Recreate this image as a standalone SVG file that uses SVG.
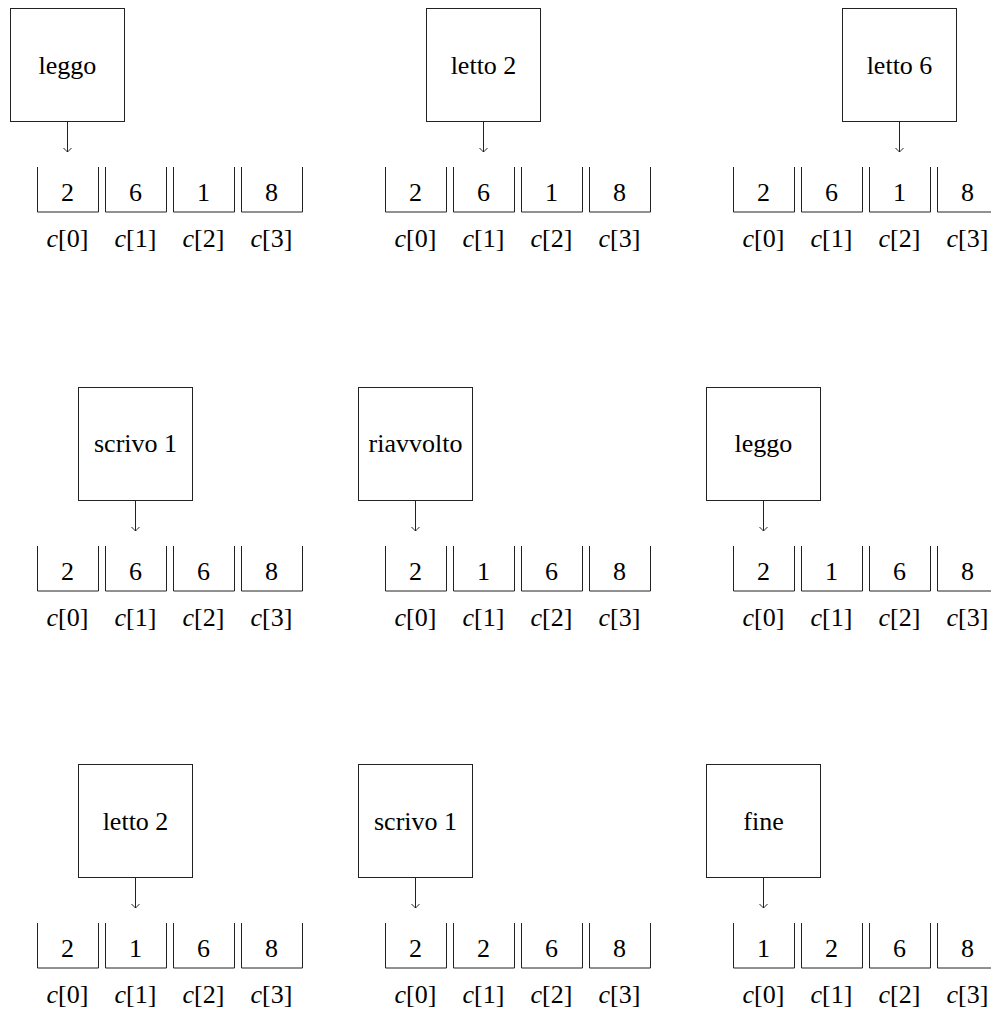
<svg xmlns="http://www.w3.org/2000/svg" width="991" height="1015" viewBox="0 0 991 1015" font-family="Liberation Serif, serif" font-size="26">
<style>
.box{fill:none;stroke:rgb(34,34,34);stroke-width:1}
.cell{fill:none;stroke:rgb(34,34,34);stroke-width:1}
.conn{stroke:rgb(34,34,34);stroke-width:1;fill:none}
.ah{fill:none;stroke:rgb(34,34,34);stroke-width:1}
</style>
<defs>
<marker id="arr" viewBox="-5 -5 10 10" markerWidth="10" markerHeight="10" refX="0" refY="0" orient="auto" markerUnits="userSpaceOnUse">
<path class="ah" d="M-4,-4 Q-1,-1 0,0 Q-1,1 -4,4"/>
</marker>
</defs>

<g id="r1p1" font-family="Liberation Serif, serif" font-size="26" text-anchor="middle">
<rect class="box" x="10.5" y="8.5" width="114" height="113"/>
<text x="67.5" y="74" font-family="Liberation Serif, serif">leggo</text>
<path class="cell" d="M37.5,167 V212 H98.5 V167 M105.5,167 V212 H166.5 V167 M173.5,167 V212 H234.5 V167 M241.5,167 V212 H302.5 V167"/>
<text x="67.5" y="201" font-family="Liberation Serif, serif">2</text><text x="135.5" y="201" font-family="Liberation Serif, serif">6</text><text x="203.5" y="201" font-family="Liberation Serif, serif">1</text><text x="271.5" y="201" font-family="Liberation Serif, serif">8</text>
<text x="67.5" y="247" font-family="Liberation Serif, serif"><tspan font-style="italic">c</tspan>[0]</text><text x="135.5" y="247" font-family="Liberation Serif, serif"><tspan font-style="italic">c</tspan>[1]</text><text x="203.5" y="247" font-family="Liberation Serif, serif"><tspan font-style="italic">c</tspan>[2]</text><text x="271.5" y="247" font-family="Liberation Serif, serif"><tspan font-style="italic">c</tspan>[3]</text>
</g>

<g id="r1p2" font-family="Liberation Serif, serif" font-size="26" text-anchor="middle">
<rect class="box" x="426.5" y="8.5" width="114" height="113"/>
<text x="483.5" y="74" font-family="Liberation Serif, serif">letto 2</text>
<path class="cell" d="M385.5,167 V212 H446.5 V167 M453.5,167 V212 H514.5 V167 M521.5,167 V212 H582.5 V167 M589.5,167 V212 H650.5 V167"/>
<text x="415.5" y="201" font-family="Liberation Serif, serif">2</text><text x="483.5" y="201" font-family="Liberation Serif, serif">6</text><text x="551.5" y="201" font-family="Liberation Serif, serif">1</text><text x="619.5" y="201" font-family="Liberation Serif, serif">8</text>
<text x="415.5" y="247" font-family="Liberation Serif, serif"><tspan font-style="italic">c</tspan>[0]</text><text x="483.5" y="247" font-family="Liberation Serif, serif"><tspan font-style="italic">c</tspan>[1]</text><text x="551.5" y="247" font-family="Liberation Serif, serif"><tspan font-style="italic">c</tspan>[2]</text><text x="619.5" y="247" font-family="Liberation Serif, serif"><tspan font-style="italic">c</tspan>[3]</text>
</g>

<g id="r1p3" font-family="Liberation Serif, serif" font-size="26" text-anchor="middle">
<rect class="box" x="842.5" y="8.5" width="114" height="113"/>
<text x="899.5" y="74" font-family="Liberation Serif, serif">letto 6</text>
<path class="cell" d="M733.5,167 V212 H794.5 V167 M801.5,167 V212 H862.5 V167 M869.5,167 V212 H930.5 V167 M937.5,167 V212 H998.5 V167"/>
<text x="763.5" y="201" font-family="Liberation Serif, serif">2</text><text x="831.5" y="201" font-family="Liberation Serif, serif">6</text><text x="899.5" y="201" font-family="Liberation Serif, serif">1</text><text x="967.5" y="201" font-family="Liberation Serif, serif">8</text>
<text x="763.5" y="247" font-family="Liberation Serif, serif"><tspan font-style="italic">c</tspan>[0]</text><text x="831.5" y="247" font-family="Liberation Serif, serif"><tspan font-style="italic">c</tspan>[1]</text><text x="899.5" y="247" font-family="Liberation Serif, serif"><tspan font-style="italic">c</tspan>[2]</text><text x="967.5" y="247" font-family="Liberation Serif, serif"><tspan font-style="italic">c</tspan>[3]</text>
</g>

<g id="r2p1" font-family="Liberation Serif, serif" font-size="26" text-anchor="middle">
<rect class="box" x="78.5" y="387.5" width="114" height="113"/>
<text x="135.5" y="452" font-family="Liberation Serif, serif">scrivo 1</text>
<path class="cell" d="M37.5,546 V591 H98.5 V546 M105.5,546 V591 H166.5 V546 M173.5,546 V591 H234.5 V546 M241.5,546 V591 H302.5 V546"/>
<text x="67.5" y="580" font-family="Liberation Serif, serif">2</text><text x="135.5" y="580" font-family="Liberation Serif, serif">6</text><text x="203.5" y="580" font-family="Liberation Serif, serif">6</text><text x="271.5" y="580" font-family="Liberation Serif, serif">8</text>
<text x="67.5" y="626" font-family="Liberation Serif, serif"><tspan font-style="italic">c</tspan>[0]</text><text x="135.5" y="626" font-family="Liberation Serif, serif"><tspan font-style="italic">c</tspan>[1]</text><text x="203.5" y="626" font-family="Liberation Serif, serif"><tspan font-style="italic">c</tspan>[2]</text><text x="271.5" y="626" font-family="Liberation Serif, serif"><tspan font-style="italic">c</tspan>[3]</text>
</g>

<g id="r2p2" font-family="Liberation Serif, serif" font-size="26" text-anchor="middle">
<rect class="box" x="358.5" y="387.5" width="114" height="113"/>
<text x="415.5" y="452" font-family="Liberation Serif, serif">riavvolto</text>
<path class="cell" d="M385.5,546 V591 H446.5 V546 M453.5,546 V591 H514.5 V546 M521.5,546 V591 H582.5 V546 M589.5,546 V591 H650.5 V546"/>
<text x="415.5" y="580" font-family="Liberation Serif, serif">2</text><text x="483.5" y="580" font-family="Liberation Serif, serif">1</text><text x="551.5" y="580" font-family="Liberation Serif, serif">6</text><text x="619.5" y="580" font-family="Liberation Serif, serif">8</text>
<text x="415.5" y="626" font-family="Liberation Serif, serif"><tspan font-style="italic">c</tspan>[0]</text><text x="483.5" y="626" font-family="Liberation Serif, serif"><tspan font-style="italic">c</tspan>[1]</text><text x="551.5" y="626" font-family="Liberation Serif, serif"><tspan font-style="italic">c</tspan>[2]</text><text x="619.5" y="626" font-family="Liberation Serif, serif"><tspan font-style="italic">c</tspan>[3]</text>
</g>

<g id="r2p3" font-family="Liberation Serif, serif" font-size="26" text-anchor="middle">
<rect class="box" x="706.5" y="387.5" width="114" height="113"/>
<text x="763.5" y="452" font-family="Liberation Serif, serif">leggo</text>
<path class="cell" d="M733.5,546 V591 H794.5 V546 M801.5,546 V591 H862.5 V546 M869.5,546 V591 H930.5 V546 M937.5,546 V591 H998.5 V546"/>
<text x="763.5" y="580" font-family="Liberation Serif, serif">2</text><text x="831.5" y="580" font-family="Liberation Serif, serif">1</text><text x="899.5" y="580" font-family="Liberation Serif, serif">6</text><text x="967.5" y="580" font-family="Liberation Serif, serif">8</text>
<text x="763.5" y="626" font-family="Liberation Serif, serif"><tspan font-style="italic">c</tspan>[0]</text><text x="831.5" y="626" font-family="Liberation Serif, serif"><tspan font-style="italic">c</tspan>[1]</text><text x="899.5" y="626" font-family="Liberation Serif, serif"><tspan font-style="italic">c</tspan>[2]</text><text x="967.5" y="626" font-family="Liberation Serif, serif"><tspan font-style="italic">c</tspan>[3]</text>
</g>

<g id="r3p1" font-family="Liberation Serif, serif" font-size="26" text-anchor="middle">
<rect class="box" x="78.5" y="764.5" width="114" height="113"/>
<text x="135.5" y="830" font-family="Liberation Serif, serif">letto 2</text>
<path class="cell" d="M37.5,923 V968 H98.5 V923 M105.5,923 V968 H166.5 V923 M173.5,923 V968 H234.5 V923 M241.5,923 V968 H302.5 V923"/>
<text x="67.5" y="957" font-family="Liberation Serif, serif">2</text><text x="135.5" y="957" font-family="Liberation Serif, serif">1</text><text x="203.5" y="957" font-family="Liberation Serif, serif">6</text><text x="271.5" y="957" font-family="Liberation Serif, serif">8</text>
<text x="67.5" y="1003" font-family="Liberation Serif, serif"><tspan font-style="italic">c</tspan>[0]</text><text x="135.5" y="1003" font-family="Liberation Serif, serif"><tspan font-style="italic">c</tspan>[1]</text><text x="203.5" y="1003" font-family="Liberation Serif, serif"><tspan font-style="italic">c</tspan>[2]</text><text x="271.5" y="1003" font-family="Liberation Serif, serif"><tspan font-style="italic">c</tspan>[3]</text>
</g>

<g id="r3p2" font-family="Liberation Serif, serif" font-size="26" text-anchor="middle">
<rect class="box" x="358.5" y="764.5" width="114" height="113"/>
<text x="415.5" y="830" font-family="Liberation Serif, serif">scrivo 1</text>
<path class="cell" d="M385.5,923 V968 H446.5 V923 M453.5,923 V968 H514.5 V923 M521.5,923 V968 H582.5 V923 M589.5,923 V968 H650.5 V923"/>
<text x="415.5" y="957" font-family="Liberation Serif, serif">2</text><text x="483.5" y="957" font-family="Liberation Serif, serif">2</text><text x="551.5" y="957" font-family="Liberation Serif, serif">6</text><text x="619.5" y="957" font-family="Liberation Serif, serif">8</text>
<text x="415.5" y="1003" font-family="Liberation Serif, serif"><tspan font-style="italic">c</tspan>[0]</text><text x="483.5" y="1003" font-family="Liberation Serif, serif"><tspan font-style="italic">c</tspan>[1]</text><text x="551.5" y="1003" font-family="Liberation Serif, serif"><tspan font-style="italic">c</tspan>[2]</text><text x="619.5" y="1003" font-family="Liberation Serif, serif"><tspan font-style="italic">c</tspan>[3]</text>
</g>

<g id="r3p3" font-family="Liberation Serif, serif" font-size="26" text-anchor="middle">
<rect class="box" x="706.5" y="764.5" width="114" height="113"/>
<text x="763.5" y="830" font-family="Liberation Serif, serif">fine</text>
<path class="cell" d="M733.5,923 V968 H794.5 V923 M801.5,923 V968 H862.5 V923 M869.5,923 V968 H930.5 V923 M937.5,923 V968 H998.5 V923"/>
<text x="763.5" y="957" font-family="Liberation Serif, serif">1</text><text x="831.5" y="957" font-family="Liberation Serif, serif">2</text><text x="899.5" y="957" font-family="Liberation Serif, serif">6</text><text x="967.5" y="957" font-family="Liberation Serif, serif">8</text>
<text x="763.5" y="1003" font-family="Liberation Serif, serif"><tspan font-style="italic">c</tspan>[0]</text><text x="831.5" y="1003" font-family="Liberation Serif, serif"><tspan font-style="italic">c</tspan>[1]</text><text x="899.5" y="1003" font-family="Liberation Serif, serif"><tspan font-style="italic">c</tspan>[2]</text><text x="967.5" y="1003" font-family="Liberation Serif, serif"><tspan font-style="italic">c</tspan>[3]</text>
</g>

<g id="connectors">
<path class="conn" d="M67.5,121.5 V152" marker-end="url(#arr)"/>
<path class="conn" d="M483.5,121.5 V152" marker-end="url(#arr)"/>
<path class="conn" d="M899.5,121.5 V152" marker-end="url(#arr)"/>
<path class="conn" d="M135.5,500.5 V531" marker-end="url(#arr)"/>
<path class="conn" d="M415.5,500.5 V531" marker-end="url(#arr)"/>
<path class="conn" d="M763.5,500.5 V531" marker-end="url(#arr)"/>
<path class="conn" d="M135.5,877.5 V908" marker-end="url(#arr)"/>
<path class="conn" d="M415.5,877.5 V908" marker-end="url(#arr)"/>
<path class="conn" d="M763.5,877.5 V908" marker-end="url(#arr)"/>
</g>
</svg>
